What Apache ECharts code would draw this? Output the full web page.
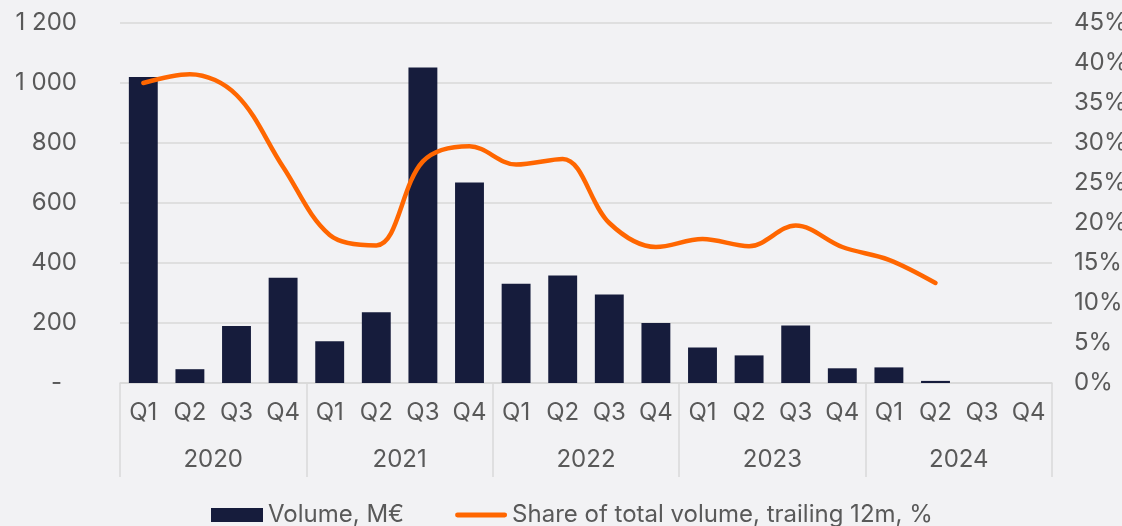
<!DOCTYPE html>
<html>
<head>
<meta charset="utf-8">
<script src="https://cdn.jsdelivr.net/npm/echarts@6/dist/echarts.min.js"></script>
<style>
  html, body { margin: 0; padding: 0; background: #f2f2f4; }
  #chart { width: 1122px; height: 526px; }
</style>
</head>
<body>
<div id="chart"></div>
<script>
const quarters = ['Q1','Q2','Q3','Q4','Q1','Q2','Q3','Q4','Q1','Q2','Q3','Q4','Q1','Q2','Q3','Q4','Q1','Q2','Q3','Q4'];
const years = ['2020','2021','2022','2023','2024'];
const volume = [1020, 46, 190, 351, 139, 236, 1052, 668, 331, 358, 295, 200, 118, 92, 192, 49, 52, 7, null, null];
const sharePct = [37.5, 38.6, 36.0, 27.0, 18.5, 17.2, 27.7, 29.6, 27.3, 28.0, 20.0, 17.0, 18.0, 17.1, 19.7, 17.0, 15.4, 12.5, null, null];
const leftTicks = { min: 0, max: 1200, interval: 200 };
const rightTicks = { min: 0, max: 45, interval: 5 };

const labelColor = '#595959';
const gridColor = '#d9d9d9';
const font = 'Inter, "Noto Sans", sans-serif';
const fs = 24;

function fmtThousands(v) {
  if (v === 0) return '{z|-}';
  const s = String(v);
  return s.length > 3 ? s.slice(0, s.length - 3) + ' ' + s.slice(-3) : s;
}

const chart = echarts.init(document.getElementById('chart'));
chart.setOption({
  backgroundColor: '#f2f2f4',
  animation: false,
  textStyle: { fontFamily: font },
  grid: { left: 120, right: 70, top: 23, bottom: 143, containLabel: false, outerBoundsMode: 'none' },
  legend: {
    left: 206,
    top: 498,
    itemWidth: 52,
    itemHeight: 14,
    itemGap: 51,
    textStyle: { color: labelColor, fontSize: 24, fontFamily: font },
    data: [
      { name: 'Volume, M€', icon: 'rect' },
      { name: 'Share of total volume, trailing 12m, %',
        icon: 'path://M2.5,0 L50.5,0 A2.5,2.5 0 0 1 50.5,5 L2.5,5 A2.5,2.5 0 0 1 2.5,0 Z',
        itemStyle: { color: '#ff6600' } }
    ]
  },
  xAxis: [
    {
      type: 'category',
      data: quarters,
      boundaryGap: true,
      axisLine: { show: true, lineStyle: { color: gridColor, width: 1.5 } },
      axisTick: { show: false },
      axisLabel: { color: labelColor, fontSize: fs, margin: 18, interval: 0, fontFamily: font }
    },
    {
      type: 'category',
      data: years,
      position: 'bottom',
      boundaryGap: true,
      axisLine: { show: false },
      axisTick: { show: true, length: 94, interval: 0, lineStyle: { color: gridColor, width: 1.5 } },
      axisLabel: { color: labelColor, fontSize: fs, margin: 65, interval: 0, fontFamily: font }
    }
  ],
  yAxis: [
    {
      type: 'value',
      min: leftTicks.min, max: leftTicks.max, interval: leftTicks.interval,
      axisLine: { show: false },
      axisTick: { show: false },
      splitLine: { show: true, lineStyle: { color: gridColor, width: 1.5 } },
      axisLabel: {
        color: labelColor, fontSize: fs, margin: 43, fontFamily: font,
        formatter: fmtThousands,
        rich: { z: { color: labelColor, fontSize: fs, fontFamily: font, padding: [0, 15, 0, 0] } }
      }
    },
    {
      type: 'value',
      min: rightTicks.min, max: rightTicks.max, interval: rightTicks.interval,
      position: 'right',
      axisLine: { show: false },
      axisTick: { show: false },
      splitLine: { show: false },
      axisLabel: { color: labelColor, fontSize: fs, margin: 22, fontFamily: font, formatter: '{value}%' }
    }
  ],
  series: [
    {
      name: 'Volume, M€',
      type: 'bar',
      xAxisIndex: 0,
      yAxisIndex: 0,
      data: volume,
      barCategoryGap: '38%',
      itemStyle: { color: '#161c3c' },
      emphasis: { disabled: true }
    },
    {
      name: 'Share of total volume, trailing 12m, %',
      type: 'line',
      xAxisIndex: 0,
      yAxisIndex: 1,
      data: sharePct,
      smooth: 0.35,
      symbol: 'none',
      lineStyle: { color: '#ff6600', width: 4.5, cap: 'round', join: 'round' },
      itemStyle: { color: '#ff6600' },
      emphasis: { disabled: true }
    }
  ]
});
</script>
</body>
</html>
